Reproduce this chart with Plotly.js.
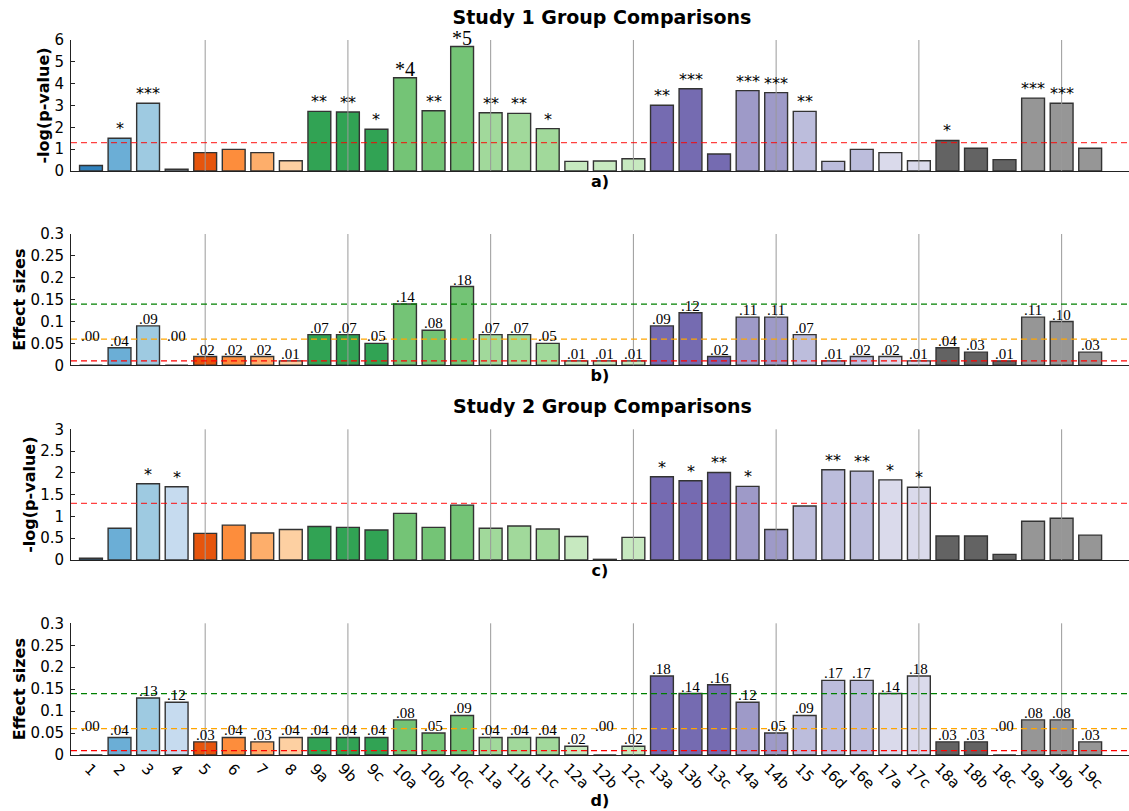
<!DOCTYPE html>
<html>
<head>
<meta charset="utf-8">
<script src="https://cdn.plot.ly/plotly-3.0.1.min.js"></script>
<style>html,body{margin:0;padding:0;background:#fff;} #chart{width:1129px;height:811px;}</style>
</head>
<body>
<div id="chart"></div>
<script>
// ---------------- data ----------------
const categories = ['1','2','3','4','5','6','7','8','9a','9b','9c','10a','10b','10c','11a','11b','11c','12a','12b','12c','13a','13b','13c','14a','14b','15','16d','16e','17a','17c','18a','18b','18c','19a','19b','19c'];

const barColors = ['#3182bd','#6baed6','#9ecae1','#c6dbef','#e6550d','#fd8d3c','#fdae6b','#fdd0a2',
  '#31a354','#31a354','#31a354','#74c476','#74c476','#74c476','#a1d99b','#a1d99b','#a1d99b',
  '#c7e9c0','#c7e9c0','#c7e9c0','#756bb1','#756bb1','#756bb1','#9e9ac8','#9e9ac8',
  '#bcbddc','#bcbddc','#bcbddc','#dadaeb','#dadaeb','#636363','#636363','#636363','#969696','#969696','#969696'];

// Study 1: -log(p-value)
const study1P = [0.25,1.50,3.10,0.08,0.84,0.99,0.84,0.47,2.73,2.70,1.91,4.27,2.76,5.70,2.67,2.64,1.94,0.44,0.46,0.56,3.01,3.77,0.78,3.68,3.59,2.73,0.44,0.99,0.84,0.47,1.40,1.04,0.52,3.34,3.10,1.04];
const study1Stars = ['','*','***','','','','','','**','**','*','*4','**','*5','**','**','*','','','','**','***','','***','***','**','','','','','*','','','***','***',''];
// Study 1: effect sizes
const study1Effect = [0.00,0.04,0.09,0.00,0.02,0.02,0.02,0.01,0.07,0.07,0.05,0.14,0.08,0.18,0.07,0.07,0.05,0.01,0.01,0.01,0.09,0.12,0.02,0.11,0.11,0.07,0.01,0.02,0.02,0.01,0.04,0.03,0.01,0.11,0.10,0.03];

// Study 2: -log(p-value)
const study2P = [0.04,0.73,1.75,1.68,0.61,0.80,0.62,0.70,0.77,0.75,0.69,1.07,0.75,1.26,0.73,0.78,0.71,0.54,0.015,0.52,1.91,1.82,2.01,1.69,0.70,1.24,2.07,2.04,1.84,1.67,0.55,0.55,0.13,0.89,0.96,0.57];
const study2Stars = ['','','*','*','','','','','','','','','','','','','','','','','*','*','**','*','','','**','**','*','*','','','','','',''];
// Study 2: effect sizes
const study2Effect = [0.00,0.04,0.13,0.12,0.03,0.04,0.03,0.04,0.04,0.04,0.04,0.08,0.05,0.09,0.04,0.04,0.04,0.02,0.00,0.02,0.18,0.14,0.16,0.12,0.05,0.09,0.17,0.17,0.14,0.18,0.03,0.03,0.00,0.08,0.08,0.03];

const gridCategories = ['5','9b','11a','12c','14b','17c','19b'];
const pThreshold = 1.3;
const effectThresholds = [0.14, 0.06, 0.01];
const effectThresholdColors = ['#008000', '#ffa500', '#ff0000'];
const zeroLabelLevel = 0.05;

// ---------------- layout helpers ----------------
const W = 1129, H = 811;
const dom = (top, bot) => [1 - bot / H, 1 - top / H];
const pos = categories.map((c, i) => i);              // slot of each category on the x axis
const posOf = c => categories.indexOf(c);
const sansFamily = 'DejaVu Sans, sans-serif';
const serifFamily = 'Liberation Serif, DejaVu Serif, serif';
const tickFont = {family: sansFamily, size: 15, color: '#000'};
const boldFont = {family: sansFamily, size: 16, color: '#000', weight: 'bold'};

const panels = [
  {id: '',  values: study1P,      stars: study1Stars, kind: 'p', label: 'a)', top: 40,    bot: 171,   range: [0, 6],   dtick: 1,    ytitle: '-log(p-value)'},
  {id: '2', values: study1Effect, kind: 'e',          label: 'b)', top: 234,   bot: 365.3, range: [0, 0.3], dtick: 0.05, ytitle: 'Effect sizes'},
  {id: '3', values: study2P,      stars: study2Stars, kind: 'p', label: 'c)', top: 429.3, bot: 560,   range: [0, 3],   dtick: 0.5,  ytitle: '-log(p-value)'},
  {id: '4', values: study2Effect, kind: 'e',          label: 'd)', top: 623.3, bot: 755,   range: [0, 0.3], dtick: 0.05, ytitle: 'Effect sizes'}
];

const traces = [];
const shapes = [];
const annotations = [];
const layout = {
  width: W, height: H,
  margin: {l: 71, r: 0, t: 0, b: 0, pad: 0},
  paper_bgcolor: '#fff', plot_bgcolor: '#fff',
  showlegend: false,
  bargap: 0.2,
  font: {family: sansFamily, color: '#000'},
  title: {text: 'Study 1 Group Comparisons', font: {family: sansFamily, size: 19, color: '#000', weight: 'bold'},
          x: 602 / W, xanchor: 'center', xref: 'container', y: 1 - 17 / H, yanchor: 'middle', yref: 'container'}
};

panels.forEach((p) => {
  const xa = 'x' + p.id, ya = 'y' + p.id;
  const xKey = 'xaxis' + p.id, yKey = 'yaxis' + p.id;
  traces.push({
    type: 'bar', x: pos, y: p.values, text: categories, textposition: 'none', xaxis: xa, yaxis: ya, width: 0.8,
    marker: {color: barColors, line: {color: '#333', width: 1.4}},
    hoverinfo: 'skip', showlegend: false
  });
  layout[xKey] = {
    domain: [0, 1], anchor: ya, type: 'linear',
    range: [-0.7, 36.36], showline: true, linecolor: '#222', linewidth: 1, ticks: '',
    showticklabels: false, showgrid: false, zeroline: false, fixedrange: true,
    title: {text: p.label, font: boldFont, standoff: p.id === '4' ? 39 : 4}
  };
  layout[yKey] = {
    domain: dom(p.top, p.bot), anchor: xa, range: p.range, dtick: p.dtick, tick0: 0,
    showline: true, linecolor: '#222', linewidth: 1, ticks: 'inside', ticklen: 4, tickcolor: '#222',
    showgrid: false, zeroline: false, fixedrange: true, tickfont: tickFont, ticklabelstandoff: 3,
    title: {text: p.ytitle, font: boldFont, standoff: 0}
  };
  // vertical separators
  gridCategories.forEach(c => shapes.push({
    type: 'line', xref: xa, yref: ya + ' domain', x0: posOf(c), x1: posOf(c), y0: 0, y1: 1,
    line: {color: '#9a9a9a', width: 1}, layer: 'above'
  }));
  if (p.kind === 'p') {
    shapes.push({type: 'line', xref: xa + ' domain', yref: ya, x0: 0, x1: 1, y0: pThreshold, y1: pThreshold,
      line: {color: 'rgba(255,0,0,0.75)', width: 1.3, dash: '6px,4px'}, layer: 'above'});
    p.stars.forEach((s, i) => {
      if (!s) return;
      const isNum = /\d/.test(s);
      annotations.push({xref: xa, yref: ya, x: pos[i], y: p.values[i], yanchor: 'bottom', xanchor: 'center',
        text: s, showarrow: false, yshift: isNum ? -4 : -2,
        font: isNum ? {family: serifFamily, size: 20, color: '#000'} : {family: sansFamily, size: 16, color: '#000'}});
    });
  } else {
    effectThresholds.forEach((t, j) => shapes.push({type: 'line', xref: xa + ' domain', yref: ya, x0: 0, x1: 1, y0: t, y1: t,
      line: {color: effectThresholdColors[j], width: 1.2, dash: '6px,4px'}, layer: 'above'}));
    p.values.forEach((v, i) => {
      annotations.push({xref: xa, yref: ya, x: pos[i], y: v > 0 ? v : zeroLabelLevel, yanchor: 'bottom', xanchor: 'center',
        text: v.toFixed(2).replace(/^0/, ''), showarrow: false, yshift: -3,
        font: {family: serifFamily, size: 15, color: '#000'}});
    });
  }
});

// category tick labels on the bottom panel
const bottomDomain = layout.yaxis4.domain[0];
categories.forEach((c, i) => annotations.push({
  xref: 'x4', yref: 'paper', x: pos[i], y: bottomDomain, yanchor: 'top', xanchor: 'center', yshift: -2,
  text: c, textangle: 45, showarrow: false, font: tickFont
}));

// second study title
annotations.push({xref: 'paper', yref: 'paper', x: (602 - 71) / (W - 71), y: 1 - 406 / H, xanchor: 'center', yanchor: 'middle',
  text: 'Study 2 Group Comparisons', showarrow: false, font: {family: sansFamily, size: 19, color: '#000', weight: 'bold'}});

layout.shapes = shapes;
layout.annotations = annotations;

Plotly.newPlot('chart', traces, layout, {displayModeBar: false, staticPlot: true});
</script>
</body>
</html>
